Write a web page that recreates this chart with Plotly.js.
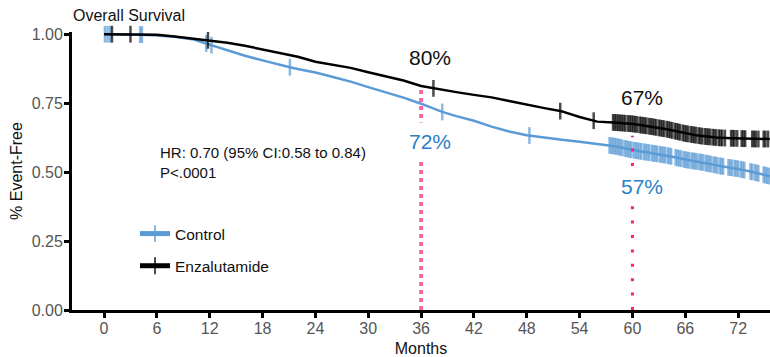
<!DOCTYPE html>
<html><head><meta charset="utf-8">
<script src="https://cdn.plot.ly/plotly-3.0.1.min.js"></script>
<style>html,body{margin:0;padding:0;background:#fff}#chart{width:770px;height:357px}</style>
</head><body><div id="chart"></div>
<script>
// ---- data ----
const xTickVals = [0, 6, 12, 18, 24, 30, 36, 42, 48, 54, 60, 66, 72];
const yTickVals = [0, 0.25, 0.5, 0.75, 1];
const yTickText = ['0.00', '0.25', '0.50', '0.75', '1.00'];

const seriesNames = ['Control', 'Enzalutamide'];

const ctrlMonths = [0, 2, 4, 6, 8, 10, 12, 14, 16, 18, 20, 22, 24, 26, 28, 30, 32, 34, 36, 38, 40, 42, 44, 46, 48, 50, 52, 54, 56, 58, 60, 62, 64, 66, 68, 70, 72, 74, 75.6];
const ctrlSurv   = [1.0, 1.0, 0.999, 0.995, 0.991, 0.982, 0.962, 0.942, 0.922, 0.905, 0.888, 0.874, 0.861, 0.845, 0.828, 0.808, 0.789, 0.770, 0.748, 0.722, 0.703, 0.686, 0.665, 0.647, 0.634, 0.625, 0.617, 0.610, 0.603, 0.594, 0.580, 0.570, 0.560, 0.545, 0.535, 0.522, 0.512, 0.498, 0.485];
const ctrlCensor = [0.1, 0.4, 0.7, 4.1, 4.3, 11.6, 12.2, 21.1, 38.4, 48.3,
  57.4, 57.6, 57.8, 58.0, 58.2, 58.4, 58.6, 58.8, 59.1, 59.3, 59.5, 59.7, 59.9, 60.2, 60.4, 60.6, 60.8, 61.0, 61.3, 61.5, 61.7, 61.9,
  62.2, 62.4, 62.6, 62.8, 63.1, 63.3, 63.5, 63.7, 64.0, 64.2, 64.4, 64.9, 65.1, 65.3, 65.5, 65.8, 66.0, 66.2, 66.4, 66.7, 66.9, 67.1,
  67.3, 67.6, 67.8, 68.0, 68.3, 68.5, 68.7, 68.9, 69.2, 69.4, 69.6, 69.9, 70.1, 70.3, 70.9, 71.1, 71.3, 71.6, 71.8, 72.0, 72.3, 72.5,
  72.7, 73.4, 73.6, 73.9, 74.1, 74.3, 74.9, 75.1, 75.3, 75.5];

const enzaMonths = [0, 2, 4, 6, 8, 10, 12, 14, 16, 18, 20, 22, 24, 26, 28, 30, 32, 34, 36, 38, 40, 42, 44, 46, 48, 50, 52, 54, 56, 58, 60, 62, 64, 66, 68, 70, 72, 74, 75.6];
const enzaSurv   = [1.0, 1.0, 1.0, 0.998, 0.992, 0.985, 0.977, 0.969, 0.958, 0.945, 0.932, 0.918, 0.900, 0.890, 0.878, 0.862, 0.848, 0.832, 0.812, 0.800, 0.790, 0.780, 0.771, 0.758, 0.744, 0.732, 0.720, 0.700, 0.683, 0.680, 0.675, 0.666, 0.655, 0.640, 0.630, 0.624, 0.622, 0.620, 0.620];
const enzaCensor = [0.9, 3.0, 11.8, 37.4, 51.8, 55.6,
  57.8, 58.0, 58.2, 58.4, 58.6, 58.8, 59.0, 59.2, 59.5, 59.7, 59.9, 60.1, 60.3, 60.5, 60.8, 61.0, 61.2, 61.4, 61.6, 61.9, 62.1, 62.3,
  62.5, 62.7, 63.0, 63.2, 63.4, 63.6, 63.9, 64.1, 64.3, 64.5, 64.8, 65.0, 65.2, 65.4, 65.7, 65.9, 66.1, 66.3, 66.6, 66.8, 67.0, 67.2,
  67.5, 67.7, 67.9, 68.2, 68.4, 68.6, 68.8, 69.1, 69.3, 69.5, 69.8, 70.0, 70.2, 70.5, 71.2, 71.4, 71.6, 71.9, 72.4, 72.6, 72.8, 73.6,
  73.8, 74.0, 74.3, 74.9, 75.1, 75.4];

const landmarkMonths = [36, 60];
const landmarkTop = [0.81, 0.632];

const pctLabels = ['80%', '72%', '67%', '57%'];
const statLines = ['HR: 0.70 (95% CI:0.58 to 0.84)', 'P<.0001'];

// ---- helpers ----
function curveAt(m, s, t) {
  for (let i = 1; i < m.length; i++) {
    if (t <= m[i]) {
      const f = (t - m[i - 1]) / (m[i] - m[i - 1]);
      return s[i - 1] + f * (s[i] - s[i - 1]);
    }
  }
  return s[s.length - 1];
}
function build(m, s, c, msize) {
  const pts = m.map((t, i) => ({x: t, y: s[i], z: 0}));
  c.forEach(t => pts.push({x: t, y: curveAt(m, s, t), z: msize}));
  pts.sort((a, b) => a.x - b.x || a.z - b.z);
  return {x: pts.map(p => p.x), y: pts.map(p => p.y), size: pts.map(p => p.z)};
}

const BLUE = '#5b9bd5', BLACK = '#000000', BLUE_TXT = '#2a80c6';
const FONT = 'Arial, "Liberation Sans", Helvetica, sans-serif';

const c = build(ctrlMonths, ctrlSurv, ctrlCensor, 12);
const e = build(enzaMonths, enzaSurv, enzaCensor, 12);

const traces = [
  {x: c.x, y: c.y, name: seriesNames[0], legendgroup: 'c', type: 'scatter', mode: 'lines+markers',
   line: {color: BLUE, width: 2.5},
   marker: {symbol: 'line-ns', size: c.size, color: BLUE, line: {color: BLUE, width: 2.5}},
   cliponaxis: false, hoverinfo: 'skip'},
  {x: e.x, y: e.y, name: seriesNames[1], legendgroup: 'e', type: 'scatter', mode: 'lines+markers',
   line: {color: BLACK, width: 2.5},
   marker: {symbol: 'line-ns', size: e.size, color: BLACK, line: {color: BLACK, width: 2.5}},
   cliponaxis: false, hoverinfo: 'skip'}
];

const shapes = [
  {type: 'line', xref: 'x', yref: 'y', x0: landmarkMonths[0], x1: landmarkMonths[0], y0: 0, y1: landmarkTop[0],
   line: {color: '#ff66a3', width: 4, dash: 'dot'}},
  {type: 'line', xref: 'x', yref: 'y', x0: landmarkMonths[1], x1: landmarkMonths[1], y0: 0, y1: landmarkTop[1],
   line: {color: '#ff1a8c', width: 3, dash: '3px,11.4px'}}
];

const annotations = [
  {xref: 'x', yref: 'y', x: 37, y: 0.915, text: pctLabels[0], showarrow: false, font: {family: FONT, size: 21, color: '#111'}},
  {xref: 'x', yref: 'y', x: 37, y: 0.61, text: pctLabels[1], showarrow: false, bgcolor: '#fff', borderpad: 7, font: {family: FONT, size: 21, color: BLUE_TXT}},
  {xref: 'x', yref: 'y', x: 61.1, y: 0.77, text: pctLabels[2], showarrow: false, font: {family: FONT, size: 21, color: '#111'}},
  {xref: 'x', yref: 'y', x: 61.1, y: 0.447, text: pctLabels[3], showarrow: false, bgcolor: '#fff', borderpad: 6, font: {family: FONT, size: 21, color: BLUE_TXT}},
  {xref: 'x', yref: 'y', x: 6.1, y: 0.570, xanchor: 'left', text: statLines[0], showarrow: false, font: {family: FONT, size: 15, color: '#111'}},
  {xref: 'x', yref: 'y', x: 6.1, y: 0.498, xanchor: 'left', text: statLines[1], showarrow: false, font: {family: FONT, size: 15, color: '#111'}}
];

const layout = {
  width: 770, height: 357,
  margin: {l: 72, r: 0, t: 32, b: 47, pad: 0},
  paper_bgcolor: '#fff', plot_bgcolor: '#fff',
  font: {family: FONT, size: 15.5, color: '#222'},
  title: {text: 'Overall Survival', x: 73 / 770, xref: 'container', xanchor: 'left', y: 1 - 15 / 357, yref: 'container', yanchor: 'middle',
          font: {family: FONT, size: 16, color: '#111'}},
  showlegend: true,
  legend: {x: (135 - 72) / 698, xanchor: 'left', y: (310 - 217) / 278, yanchor: 'top', traceorder: 'grouped', tracegroupgap: 9,
           bgcolor: 'rgba(0,0,0,0)', itemsizing: 'constant', font: {family: FONT, size: 15.5, color: '#111'}},
  xaxis: {range: [-3.64, 75.62], tickvals: xTickVals, ticktext: xTickVals.map(String), showgrid: false, zeroline: false,
          showline: true, linecolor: '#000', linewidth: 3, ticks: 'outside', ticklen: 5, tickwidth: 3, tickcolor: '#000',
          ticklabelstandoff: -3,
          tickfont: {family: FONT, size: 16, color: '#555'},
          title: {text: 'Months', standoff: 8, font: {family: FONT, size: 16, color: '#111'}}},
  yaxis: {range: [0, 1.008], tickvals: yTickVals, ticktext: yTickText, showgrid: false, zeroline: false,
          showline: true, linecolor: '#000', linewidth: 3, ticks: 'outside', ticklen: 5, tickwidth: 3, tickcolor: '#000',
          ticklabelstandoff: -2,
          tickfont: {family: FONT, size: 16, color: '#555'},
          title: {text: '% Event-Free', standoff: 6, font: {family: FONT, size: 16, color: '#111'}}},
  shapes: shapes,
  annotations: annotations
};

Plotly.newPlot('chart', traces, layout, {displayModeBar: false, staticPlot: true});
</script>
</body></html>
